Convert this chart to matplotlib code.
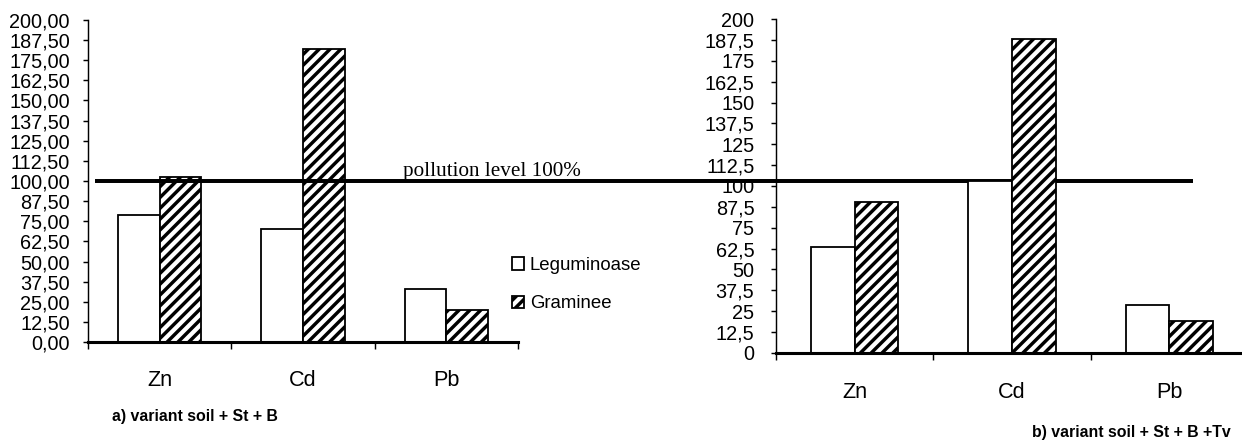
import matplotlib
matplotlib.use("Agg")
import matplotlib.pyplot as plt
from matplotlib import font_manager
import numpy as np

# ---------------- data ----------------
metals = ["Zn", "Cd", "Pb"]
series_names = ["Leguminoase", "Graminee"]

# a) variant soil + St + B
leguminoase_a = [79.0, 70.0, 32.7]
graminee_a = [102.3, 182.0, 20.1]

# b) variant soil + St + B +Tv
leguminoase_b = [63.2, 103.0, 28.6]
graminee_b = [90.2, 188.2, 19.2]

pollution_level = 100
pollution_label = "pollution level 100%"
title_a = "a) variant soil + St + B"
title_b = "b) variant soil + St + B +Tv"

y_ticks = [0, 12.5, 25, 37.5, 50, 62.5, 75, 87.5, 100, 112.5, 125, 137.5,
           150, 162.5, 175, 187.5, 200]
y_labels_a = [f"{v:.2f}".replace(".", ",") for v in y_ticks]
y_labels_b = [f"{v:g}".replace(".", ",") for v in y_ticks]

# ---------------- style ----------------
W, H, DPI = 1242, 445, 130
plt.rcParams["font.family"] = ["Liberation Sans", "DejaVu Sans"]
plt.rcParams["hatch.linewidth"] = 1.9
plt.rcParams["hatch.color"] = "black"

available = {f.name for f in font_manager.fontManager.ttflist}
if "Liberation Sans Narrow" in available:
    title_family, title_size = ["Liberation Sans Narrow"], 10.4
else:
    title_family, title_size = ["Liberation Sans"], 8.8

fig = plt.figure(figsize=(W / DPI, H / DPI), dpi=DPI)
fig.patch.set_facecolor("white")


def px(x0, y_top, x1, y_bot):
    return [x0 / W, 1 - y_bot / H, (x1 - x0) / W, (y_bot - y_top) / H]


ax1 = fig.add_axes(px(88, 20, 518, 342))
ax2 = fig.add_axes(px(776, 19.3, 1248, 352.7))


def draw(ax, leg, gra, width, labels, ypad, xpad):
    x = np.arange(len(metals))
    ax.bar(x - width / 2, leg, width, facecolor="white", edgecolor="black",
           linewidth=1.0, label=series_names[0], zorder=2)
    ax.bar(x + width / 2, gra, width, facecolor="white", edgecolor="black",
           linewidth=1.0, hatch="////", label=series_names[1], zorder=2)
    ax.set_xlim(-0.5, len(metals) - 0.5)
    ax.set_ylim(0, 200)
    ax.set_yticks(y_ticks)
    ax.set_yticklabels(labels, fontsize=11)
    ax.set_xticks(x)
    ax.set_xticklabels(metals, fontsize=12)
    ax.set_xticks(np.arange(len(metals) + 1) - 0.5, minor=True)
    ax.tick_params(axis="x", which="major", length=0, pad=xpad)
    ax.tick_params(axis="x", which="minor", length=3.6, width=0.8, direction="out")
    ax.tick_params(axis="y", which="major", length=3.0, width=0.8, direction="out",
                   pad=ypad)
    for s in ("top", "right"):
        ax.spines[s].set_visible(False)
    ax.spines["left"].set_linewidth(0.8)
    ax.spines["bottom"].set_linewidth(1.7)
    ax.spines["bottom"].set_zorder(3)
    ax.set_facecolor("none")


draw(ax1, leguminoase_a, graminee_a, 0.29, y_labels_a, 7, 15.5)
draw(ax2, leguminoase_b, graminee_b, 0.277, y_labels_b, 9, 16.5)

# pollution line across both panels (in panel a data coordinates)
x_start = -0.5 + 7 / 143
x_end = -0.5 + (1190 - 88) / 143
ax1.plot([x_start, x_end], [pollution_level, pollution_level], color="black",
         linewidth=2.2, clip_on=False, zorder=5, solid_capstyle="butt")
ax1.annotate(pollution_label, xy=(-0.5 + (402 - 88) / 143, pollution_level),
             xytext=(0, 3), textcoords="offset points", va="baseline",
             ha="left", fontsize=11.7, family=["Liberation Serif", "DejaVu Serif"],
             annotation_clip=False)

# legend
handles, lbls = ax1.get_legend_handles_labels()
fig.legend(handles, lbls, loc="upper left",
           bbox_to_anchor=(512 / W, 1 - 257 / H), frameon=False,
           fontsize=10.3, handlelength=0.65, handleheight=0.65,
           handletextpad=0.3, labelspacing=1.15, borderpad=0, borderaxespad=0)

fig.text(195 / W, 1 - 416 / H, title_a, ha="center", va="center",
         fontsize=title_size, fontweight="bold", family=title_family)
fig.text(1131 / W, 1 - 432 / H, title_b, ha="center", va="center",
         fontsize=title_size, fontweight="bold", family=title_family)

fig.savefig("out.png", dpi=DPI, facecolor="white")
